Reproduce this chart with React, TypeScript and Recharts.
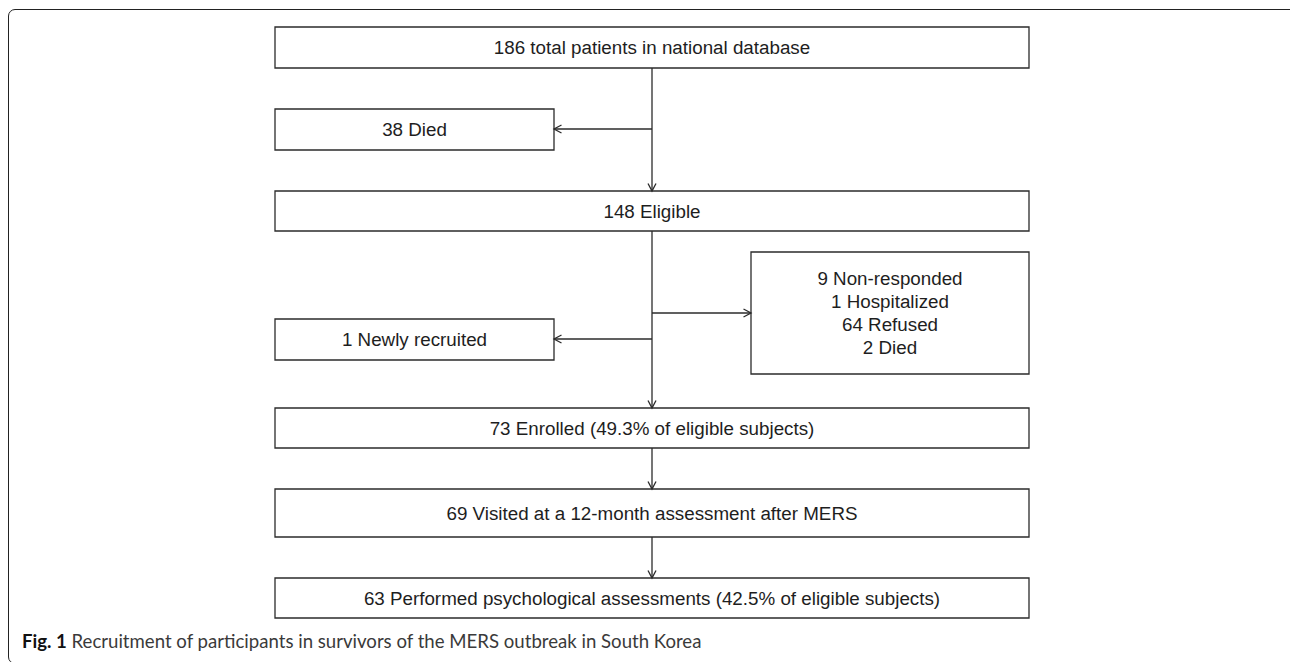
import { ScatterChart, Scatter, XAxis, YAxis, ReferenceArea, ReferenceLine } from 'recharts'

// main column of the flow, top to bottom
const stepLabels = [
  '186 total patients in national database',
  '148 Eligible',
  '73 Enrolled (49.3% of eligible subjects)',
  '69 Visited at a 12-month assessment after MERS',
  '63 Performed psychological assessments (42.5% of eligible subjects)',
]
const stepTop = [27, 191, 408, 489, 578]
const stepBottom = [68, 231, 448, 537, 618]

// side boxes
const sideLabels = [
  ['38 Died'],
  ['1 Newly recruited'],
  ['9 Non-responded', '1 Hospitalized', '64 Refused', '2 Died'],
]
const sideLeft = [275, 275, 751]
const sideRight = [554, 554, 1029]
const sideTop = [109, 319, 252]
const sideBottom = [150, 360, 374]

const colLeft = 275
const colRight = 1029
const spineX = 652

// connector segments [x1, y1, x2, y2]
const links = [
  [spineX, 68, spineX, 191],
  [spineX, 129, 554, 129],
  [spineX, 231, spineX, 408],
  [spineX, 313, 751, 313],
  [spineX, 339, 554, 339],
  [spineX, 448, spineX, 489],
  [spineX, 537, spineX, 578],
]

const arrowHeads = [
  { x: spineX, y: 191, dir: 'down' },
  { x: 554, y: 129, dir: 'left' },
  { x: spineX, y: 408, dir: 'down' },
  { x: 751, y: 313, dir: 'right' },
  { x: 554, y: 339, dir: 'left' },
  { x: spineX, y: 489, dir: 'down' },
  { x: spineX, y: 578, dir: 'down' },
]

const W = 1290
const H = 662
const INK = '#2b2b2b'

function BoxText({ viewBox, lines }: any) {
  const { x, y, width, height } = viewBox
  const cx = x + width / 2
  const cy = y + height / 2
  const lh = 22.7
  const start = cy - ((lines.length - 1) * lh) / 2
  return (
    <g>
      {lines.map((t: string, i: number) => (
        <text
          key={i}
          x={cx}
          y={start + i * lh}
          textAnchor="middle"
          dominantBaseline="central"
          fontFamily="'Liberation Sans', Arial, sans-serif"
          fontSize={18.8}
          fill="#1e1e1e"
        >
          {t}
        </text>
      ))}
    </g>
  )
}

function Chevron(props: any) {
  const { cx, cy, payload } = props
  const l = 7.5
  const w = 4
  let pts = ''
  if (payload.dir === 'down') pts = `${cx - w},${cy - l} ${cx},${cy} ${cx + w},${cy - l}`
  if (payload.dir === 'left') pts = `${cx + l},${cy - w} ${cx},${cy} ${cx + l},${cy + w}`
  if (payload.dir === 'right') pts = `${cx - l},${cy - w} ${cx},${cy} ${cx - l},${cy + w}`
  return <polyline points={pts} fill="none" stroke={INK} strokeWidth={1.3} />
}

export default function App() {
  return (
    <div style={{ position: 'absolute', left: 0, top: 0, width: W, height: H, overflow: 'hidden', background: '#fff' }}>
      <div
        style={{
          position: 'absolute',
          left: 8,
          top: 9,
          width: W + 20,
          height: H - 7,
          border: '1.6px solid #222',
          borderRadius: 7,
          boxSizing: 'border-box',
        }}
      />
      <ScatterChart width={W} height={H} margin={{ top: 0, right: 0, bottom: 0, left: 0 }} style={{ position: 'absolute', left: 0, top: 0 }}>
        <XAxis type="number" dataKey="x" domain={[0, W]} hide allowDataOverflow />
        <YAxis type="number" dataKey="y" domain={[0, H]} reversed hide allowDataOverflow />
        {links.map((s, i) => (
          <ReferenceLine
            key={'l' + i}
            segment={[{ x: s[0], y: s[1] }, { x: s[2], y: s[3] }]}
            stroke={INK}
            strokeWidth={1.3}
          />
        ))}
        {stepLabels.map((t, i) => (
          <ReferenceArea
            key={'s' + i}
            x1={colLeft}
            x2={colRight}
            y1={stepTop[i]}
            y2={stepBottom[i]}
            fill="#fff"
            fillOpacity={1}
            stroke={INK}
            strokeWidth={1.3}
            label={(p: any) => <BoxText viewBox={p.viewBox} lines={[t]} />}
          />
        ))}
        {sideLabels.map((lines, i) => (
          <ReferenceArea
            key={'b' + i}
            x1={sideLeft[i]}
            x2={sideRight[i]}
            y1={sideTop[i]}
            y2={sideBottom[i]}
            fill="#fff"
            fillOpacity={1}
            stroke={INK}
            strokeWidth={1.3}
            label={(p: any) => <BoxText viewBox={p.viewBox} lines={lines} />}
          />
        ))}
        <Scatter data={arrowHeads} shape={<Chevron />} isAnimationActive={false} />
      </ScatterChart>
      <div
        style={{
          position: 'absolute',
          left: 22,
          top: 630,
          fontFamily: 'Lato, "Open Sans", sans-serif',
          fontSize: 18.6,
          color: '#3a3a3a',
          whiteSpace: 'nowrap',
        }}
      >
        <b style={{ color: '#111' }}>Fig. 1</b> Recruitment of participants in survivors of the MERS outbreak in South Korea
      </div>
    </div>
  )
}
